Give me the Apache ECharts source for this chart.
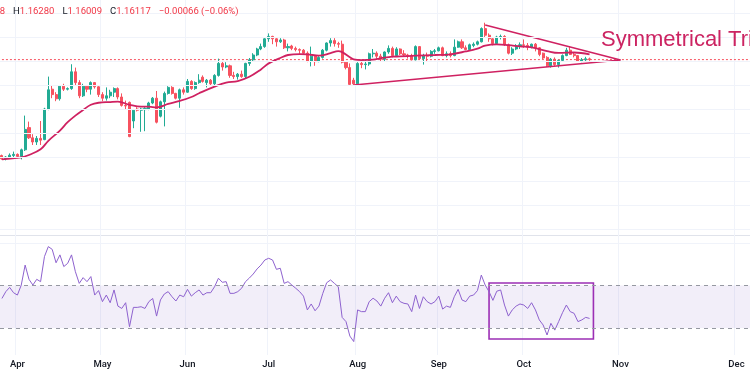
<!DOCTYPE html>
<html>
<head>
<meta charset="utf-8">
<title>EUR/USD daily - symmetrical triangle</title>
<script src="https://cdn.jsdelivr.net/npm/echarts@6/dist/echarts.min.js"></script>
<style>
  html, body { margin: 0; padding: 0; background: #fff; }
  #main { width: 750px; height: 375px; }
</style>
</head>
<body>
<div id="main"></div>
<script>
// daily bars from 2025-03-26, each row [open, high, low, close]
var candles = [
  [1.0812,1.0820,1.0778,1.0785],[1.0786,1.0808,1.0772,1.0800],[1.0800,1.0830,1.0790,1.0815],[1.0812,1.0845,1.0795,1.0822],
  [1.0822,1.0830,1.0790,1.0805],[1.0805,1.0870,1.0780,1.0860],[1.0860,1.1145,1.0850,1.1030],[1.1045,1.1095,1.0950,1.0960],
  [1.0960,1.0990,1.0900,1.0925],[1.0925,1.0975,1.0900,1.0955],[1.0955,1.1100,1.0900,1.0940],[1.0945,1.1210,1.0940,1.1200],
  [1.1200,1.1470,1.1190,1.1360],[1.1365,1.1400,1.1290,1.1320],[1.1320,1.1340,1.1265,1.1285],[1.1285,1.1400,1.1270,1.1390],
  [1.1390,1.1410,1.1350,1.1365],[1.1365,1.1380,1.1355,1.1370],[1.1370,1.1573,1.1360,1.1510],[1.1510,1.1545,1.1400,1.1420],
  [1.1420,1.1440,1.1290,1.1310],[1.1310,1.1410,1.1300,1.1390],[1.1390,1.1400,1.1340,1.1365],[1.1365,1.1430,1.1320,1.1420],
  [1.1420,1.1425,1.1370,1.1385],[1.1385,1.1390,1.1300,1.1320],[1.1320,1.1340,1.1265,1.1290],[1.1290,1.1380,1.1270,1.1310],
  [1.1310,1.1360,1.1290,1.1340],[1.1340,1.1380,1.1300,1.1370],[1.1370,1.1380,1.1280,1.1300],[1.1300,1.1330,1.1220,1.1230],
  [1.1230,1.1270,1.1200,1.1225],[1.1255,1.1262,1.0965,1.0970],[1.1100,1.1200,1.1040,1.1190],[1.1200,1.1215,1.1180,1.1190],
  [1.1190,1.1210,1.1010,1.1200],[1.1195,1.1215,1.1015,1.1205],[1.1200,1.1260,1.1190,1.1250],[1.1250,1.1300,1.1240,1.1290],
  [1.1290,1.1350,1.1080,1.1090],[1.1140,1.1270,1.1130,1.1260],[1.1260,1.1345,1.1055,1.1330],[1.1330,1.1390,1.1320,1.1380],
  [1.1380,1.1390,1.1320,1.1330],[1.1330,1.1335,1.1280,1.1290],[1.1290,1.1370,1.1210,1.1360],[1.1360,1.1380,1.1320,1.1340],
  [1.1340,1.1450,1.1335,1.1430],[1.1430,1.1440,1.1360,1.1370],[1.1370,1.1430,1.1360,1.1420],[1.1420,1.1490,1.1410,1.1440],
  [1.1465,1.1480,1.1420,1.1430],[1.1420,1.1450,1.1380,1.1440],[1.1440,1.1450,1.1400,1.1410],[1.1410,1.1490,1.1400,1.1480],
  [1.1480,1.1620,1.1470,1.1580],[1.1580,1.1595,1.1520,1.1550],[1.1550,1.1590,1.1540,1.1560],[1.1560,1.1570,1.1460,1.1480],
  [1.1480,1.1510,1.1450,1.1470],[1.1470,1.1500,1.1445,1.1490],[1.1490,1.1520,1.1460,1.1470],[1.1470,1.1585,1.1450,1.1580],
  [1.1580,1.1625,1.1560,1.1610],[1.1610,1.1665,1.1600,1.1650],[1.1650,1.1710,1.1640,1.1700],[1.1700,1.1745,1.1690,1.1720],
  [1.1720,1.1790,1.1710,1.1785],[1.1785,1.1830,1.1760,1.1805],[1.1805,1.1810,1.1740,1.1785],[1.1785,1.1790,1.1720,1.1760],
  [1.1760,1.1790,1.1750,1.1775],[1.1775,1.1785,1.1700,1.1710],[1.1710,1.1745,1.1680,1.1720],[1.1725,1.1735,1.1690,1.1705],
  [1.1705,1.1720,1.1680,1.1695],[1.1695,1.1705,1.1660,1.1690],[1.1690,1.1700,1.1650,1.1665],[1.1665,1.1680,1.1590,1.1600],
  [1.1600,1.1720,1.1555,1.1640],[1.1640,1.1650,1.1560,1.1595],[1.1595,1.1640,1.1590,1.1630],[1.1630,1.1700,1.1620,1.1690],
  [1.1690,1.1755,1.1680,1.1750],[1.1750,1.1790,1.1720,1.1770],[1.1770,1.1790,1.1720,1.1745],[1.1745,1.1760,1.1710,1.1740],
  [1.1740,1.1770,1.1580,1.1590],[1.1590,1.1600,1.1530,1.1545],[1.1545,1.1580,1.1400,1.1405],[1.1440,1.1460,1.1400,1.1410],
  [1.1410,1.1590,1.1392,1.1580],[1.1580,1.1600,1.1540,1.1570],[1.1570,1.1610,1.1530,1.1575],[1.1575,1.1670,1.1560,1.1660],
  [1.1660,1.1700,1.1630,1.1665],[1.1665,1.1680,1.1620,1.1640],[1.1640,1.1660,1.1600,1.1615],[1.1615,1.1680,1.1600,1.1675],
  [1.1675,1.1730,1.1660,1.1705],[1.1705,1.1720,1.1630,1.1645],[1.1645,1.1715,1.1640,1.1700],[1.1700,1.1705,1.1650,1.1660],
  [1.1660,1.1690,1.1640,1.1650],[1.1650,1.1660,1.1620,1.1645],[1.1645,1.1660,1.1605,1.1610],[1.1610,1.1730,1.1605,1.1720],
  [1.1720,1.1725,1.1610,1.1620],[1.1620,1.1660,1.1570,1.1645],[1.1645,1.1670,1.1600,1.1640],[1.1640,1.1690,1.1630,1.1680],
  [1.1680,1.1700,1.1660,1.1685],[1.1685,1.1720,1.1680,1.1710],[1.1710,1.1720,1.1640,1.1645],[1.1645,1.1680,1.1630,1.1660],
  [1.1660,1.1680,1.1630,1.1645],[1.1645,1.1780,1.1640,1.1715],[1.1715,1.1770,1.1710,1.1760],[1.1760,1.1780,1.1700,1.1710],
  [1.1710,1.1730,1.1690,1.1695],[1.1695,1.1745,1.1690,1.1735],[1.1730,1.1755,1.1715,1.1740],[1.1740,1.1770,1.1730,1.1760],
  [1.1760,1.1880,1.1755,1.1870],[1.1870,1.1919,1.1800,1.1815],[1.1815,1.1830,1.1760,1.1785],[1.1785,1.1790,1.1730,1.1745],
  [1.1745,1.1810,1.1740,1.1800],[1.1800,1.1820,1.1780,1.1805],[1.1805,1.1815,1.1725,1.1735],[1.1735,1.1745,1.1655,1.1665],
  [1.1665,1.1715,1.1650,1.1700],[1.1700,1.1740,1.1690,1.1725],[1.1725,1.1755,1.1700,1.1735],[1.1735,1.1780,1.1710,1.1730],
  [1.1730,1.1750,1.1690,1.1715],[1.1715,1.1745,1.1705,1.1740],[1.1740,1.1750,1.1680,1.1710],[1.1710,1.1715,1.1640,1.1655],
  [1.1665,1.1670,1.1615,1.1625],[1.1630,1.1640,1.1550,1.1560],[1.1560,1.1625,1.1545,1.1615],[1.1615,1.1630,1.1560,1.1570],
  [1.1570,1.1610,1.1545,1.1605],[1.1605,1.1655,1.1595,1.1645],[1.1645,1.1710,1.1640,1.1690],[1.1690,1.1720,1.1650,1.1655],
  [1.1655,1.1670,1.1630,1.1645],[1.1645,1.1650,1.1595,1.1600],[1.1600,1.1625,1.1590,1.1610],[1.1610,1.1635,1.1600,1.16183],
  [1.16178,1.16280,1.16009,1.16117]
];

// moving average: [bar index, value]
var ema = [
  [0,1.0781],[5,1.0797],[7,1.0817],[10,1.0864],[12,1.0935],[15,1.1020],[17,1.1090],[19,1.1145],
  [21,1.1192],[23,1.1235],[25,1.1252],[28,1.1258],[30,1.1261],[33,1.1235],[36,1.1219],[38,1.1219],
  [40,1.1214],[43,1.1242],[46,1.1267],[49,1.1300],[51,1.1331],[55,1.1386],[58,1.1419],[61,1.1433],
  [64,1.1469],[67,1.1530],[69,1.1580],[72,1.1625],[74,1.1650],[77,1.1658],[79,1.1656],[82,1.1644],
  [85,1.1666],[87,1.1683],[88,1.1674],[90,1.1632],[91,1.1614],[93,1.1608],[96,1.1611],[98,1.1622],
  [101,1.1636],[103,1.1638],[107,1.1644],[112,1.1650],[116,1.1656],[120,1.1680],[123,1.1703],[125,1.1728],
  [128,1.1738],[131,1.1732],[134,1.1722],[137,1.1714],[141,1.1683],[144,1.1667],[148,1.1671],[152,1.1655]
];

var rsi = [
  53.9,57.1,59.1,56.6,55.5,60.2,69.6,62.9,60.2,62.9,
  61.8,73.6,78.3,77.0,70.7,74.4,68.9,70.4,74.4,66.5,
  61.0,63.7,61.8,64.2,55.5,57.6,52.4,55.5,51.9,57.9,
  50.3,49.2,51.9,40.6,49.7,49.7,50.0,49.2,52.4,53.9,
  45.6,53.2,56.0,57.1,54.7,52.7,55.5,54.7,58.2,55.0,
  56.6,57.9,55.5,56.6,56.6,59.4,63.4,61.5,61.8,56.3,
  56.3,57.1,58.7,61.8,63.5,65.4,67.8,69.6,72.0,72.8,
  72.0,67.6,68.1,61.0,61.8,60.2,58.7,57.1,55.0,48.5,
  51.3,48.1,50.3,56.3,61.3,62.6,61.0,59.4,45.0,43.0,
  36.2,33.6,48.5,47.7,47.7,52.4,54.0,52.7,50.3,54.0,
  56.6,51.9,55.0,52.4,51.6,51.3,47.7,55.5,49.2,54.7,
  52.4,51.3,52.4,55.0,48.9,50.3,49.7,54.7,58.2,53.2,
  52.4,55.0,55.5,57.6,64.9,60.2,57.1,53.0,57.3,57.9,
  50.8,45.6,48.5,50.3,51.3,50.8,49.2,51.9,48.5,43.8,
  41.4,36.7,42.2,39.0,43.0,47.2,50.8,47.7,46.9,43.0,
  43.8,45.0,44.5
];

// triangle drawn on the chart: [bar index, price]
var upperTrend = [[125, 1.1900], [160, 1.1608]];
var lowerTrend = [[91, 1.1400], [160, 1.1608]];
var rsiBox = [[126, 61.2], [153, 34.8]];

var priceGridLevels = [1.02, 1.04, 1.06, 1.08, 1.10, 1.12, 1.14, 1.16, 1.18, 1.20];
var rsiBands = [40, 60];
var rsiGridLevel = 80;
var monthNames = ['Jan','Feb','Mar','Apr','May','Jun','Jul','Aug','Sep','Oct','Nov','Dec'];
var annotation = 'Symmetrical Triangle';

var UP = '#22ab94', DOWN = '#f7525f', PINK = '#cf2161', PURPLE = '#8e62cf';

// time scale: weekdays for the bars, then calendar days to the right edge
function pad(n) { return n < 10 ? '0' + n : '' + n; }
function fmt(d) { return d.getUTCFullYear() + '-' + pad(d.getUTCMonth() + 1) + '-' + pad(d.getUTCDate()); }
var dates = [];
var day = new Date(Date.UTC(2025, 2, 26));
while (dates.length < candles.length) {
  var wd = day.getUTCDay();
  if (wd != 0 && wd != 6) dates.push(fmt(day));
  day.setUTCDate(day.getUTCDate() + 1);
}
var axisEnd = Date.UTC(2025, 11, 4);
while (day.getTime() <= axisEnd) {
  dates.push(fmt(day));
  day.setUTCDate(day.getUTCDate() + 1);
}
var monthStart = dates.map(function (s, i) {
  return i > 0 && s.slice(5, 7) != dates[i - 1].slice(5, 7);
});
function isMonthStart(index) { return monthStart[index]; }

var ohlc = candles.map(function (c) { return [c[0], c[3], c[2], c[1]]; });

// header values (last bar)
var last = candles[candles.length - 1];
var prevClose = candles[candles.length - 2][3];
var chg = last[3] - prevClose;
var sign = chg < 0 ? '\u2212' : '+';
var headerText = '{k|O}{v|' + last[0].toFixed(5) + '}{g|}{k|H}{v|' + last[1].toFixed(5) + '}{g|}{k|L}{v|' +
  last[2].toFixed(5) + '}{g|}{k|C}{v|' + last[3].toFixed(5) + '}{g|}{v|' + sign + Math.abs(chg).toFixed(5) +
  ' (' + sign + Math.abs(chg / prevClose * 100).toFixed(2) + '%)}';

var HEAD_FONT = '9.5px Roboto';
var ctx = document.createElement('canvas').getContext('2d');
ctx.font = HEAD_FONT;
var headLeft = -Math.round(ctx.measureText('O' + last[0].toFixed(5).slice(0, -1)).width);

// last-price line runs across the whole time scale
var lastPriceLine = [[0, last[3]], [dates.length - 1, last[3]]];

var myChart = echarts.init(document.getElementById('main'));

var option = {
  animation: false,
  backgroundColor: '#fff',
  grid: [
    { left: 0, right: 0, top: 0, height: 235 },
    { left: 0, right: 0, top: 235, height: 120 }
  ],
  xAxis: [{
    type: 'category', gridIndex: 0, data: dates, boundaryGap: true,
    axisLine: { show: false }, axisTick: { show: false }, axisLabel: { show: false },
    splitLine: { show: true, interval: isMonthStart, lineStyle: { color: '#f0f3fa', width: 1 } }
  }, {
    type: 'category', gridIndex: 1, data: dates, boundaryGap: true,
    axisLine: { show: false }, axisTick: { show: false },
    axisLabel: {
      interval: isMonthStart, margin: 5,
      formatter: function (v) { return monthNames[parseInt(v.slice(5, 7), 10) - 1]; },
      color: '#131722', fontSize: 9.5, fontWeight: 500, fontFamily: 'Roboto'
    },
    splitLine: { show: true, interval: isMonthStart, lineStyle: { color: '#f0f3fa', width: 1 } }
  }],
  yAxis: [{
    type: 'value', gridIndex: 0, min: 1.015, max: 1.210833, scale: true,
    axisLine: { show: false }, axisTick: { show: false }, axisLabel: { show: false }, splitLine: { show: false }
  }, {
    type: 'value', gridIndex: 1, min: 27.29, max: 83.76,
    axisLine: { show: false }, axisTick: { show: false }, axisLabel: { show: false }, splitLine: { show: false }
  }],
  series: [{
    // horizontal price grid
    type: 'line', xAxisIndex: 0, yAxisIndex: 0, data: [], z: 1, silent: true,
    markLine: {
      silent: true, symbol: 'none', label: { show: false },
      data: priceGridLevels.map(function (p) {
        return { yAxis: p, lineStyle: { color: '#f0f3fa', type: 'solid', width: 1 } };
      })
    }
  }, {
    type: 'line', xAxisIndex: 0, yAxisIndex: 0, data: lastPriceLine, showSymbol: false, z: 1, silent: true,
    itemStyle: { color: '#f23645' },
    lineStyle: { color: '#f7525f', type: [2, 2], width: 1 }
  }, {
    type: 'candlestick', xAxisIndex: 0, yAxisIndex: 0, data: ohlc, barWidth: '66%', z: 2,
    itemStyle: { color: UP, color0: DOWN, borderColor: UP, borderColor0: DOWN, borderWidth: 1 }
  }, {
    type: 'line', xAxisIndex: 0, yAxisIndex: 0, data: ema, smooth: 0.4, showSymbol: false, z: 3,
    lineStyle: { color: PINK, width: 1.8 }
  }, {
    type: 'line', xAxisIndex: 0, yAxisIndex: 0, data: upperTrend, showSymbol: false, z: 4,
    lineStyle: { color: PINK, width: 1.5 }
  }, {
    type: 'line', xAxisIndex: 0, yAxisIndex: 0, data: lowerTrend, showSymbol: false, z: 4,
    lineStyle: { color: PINK, width: 1.5 }
  }, {
    type: 'line', xAxisIndex: 1, yAxisIndex: 1, data: rsi, showSymbol: false, z: 3,
    lineStyle: { color: PURPLE, width: 1 },
    markArea: {
      silent: true,
      data: [
        [{ yAxis: rsiBands[0], itemStyle: { color: 'rgba(126,87,194,0.10)' } }, { yAxis: rsiBands[1] }],
        [{ xAxis: rsiBox[0][0], yAxis: rsiBox[0][1],
           itemStyle: { color: 'rgba(0,0,0,0)', borderColor: '#9c2fb5', borderWidth: 1.6 } },
         { xAxis: rsiBox[1][0], yAxis: rsiBox[1][1] }]
      ]
    },
    markLine: {
      silent: true, symbol: 'none', label: { show: false },
      data: [
        { yAxis: rsiBands[0], lineStyle: { color: '#9598a1', type: [4, 4], width: 1 } },
        { yAxis: rsiBands[1], lineStyle: { color: '#9598a1', type: [4, 4], width: 1 } },
        { yAxis: rsiGridLevel, lineStyle: { color: '#f0f3fa', type: 'solid', width: 1 } }
      ]
    }
  }],
  graphic: [{
    type: 'line', silent: true, z: 0,
    shape: { x1: 0, y1: 235.5, x2: 750, y2: 235.5 },
    style: { stroke: '#e0e3eb', lineWidth: 1 }
  }, {
    type: 'text', left: headLeft, top: 7, z: 10,
    style: {
      text: headerText, font: HEAD_FONT,
      rich: {
        k: { fill: '#131722', font: HEAD_FONT },
        v: { fill: '#f23645', font: HEAD_FONT },
        g: { width: 8 }
      }
    }
  }, {
    type: 'text', left: 601, top: 29, z: 10,
    style: { text: annotation, fill: '#cc2462', font: '22px "Liberation Sans"' }
  }]
};

myChart.setOption(option);

window.addEventListener('resize', function () { myChart.resize(); });
</script>
</body>
</html>
